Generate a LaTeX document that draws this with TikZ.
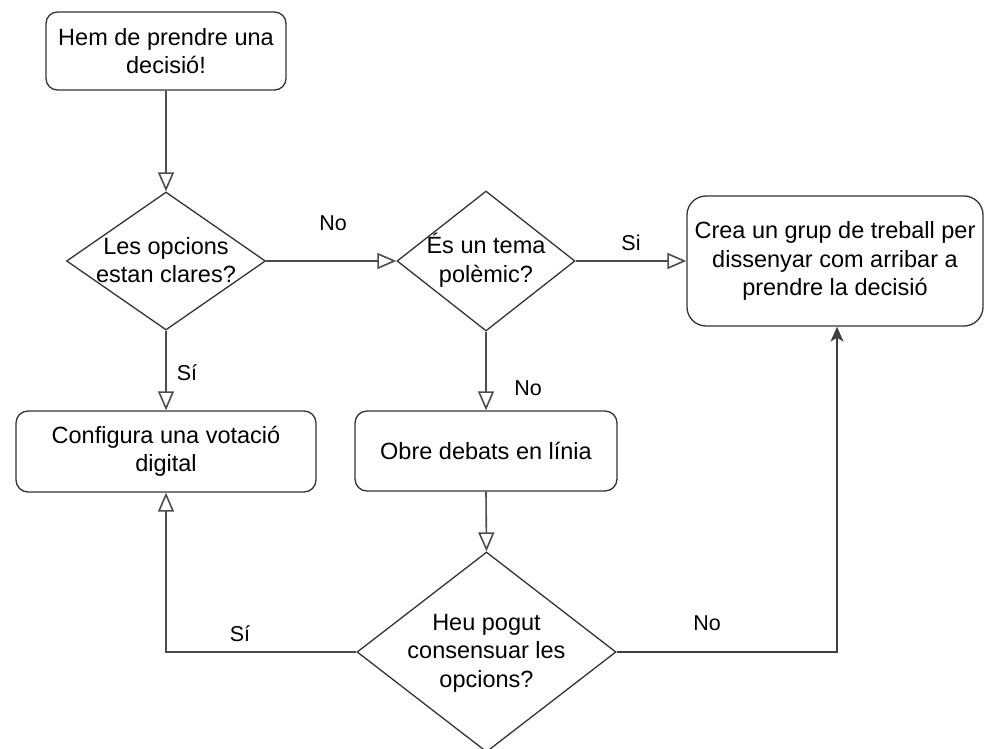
\documentclass[tikz,border=0pt]{standalone}
\usepackage{fontspec}
\setmainfont{Liberation Sans}
\usetikzlibrary{shapes.geometric,arrows.meta}
\begin{document}
\begin{tikzpicture}[x=1pt,y=-1pt,
  box/.style={draw=black!80, line width=1.3pt, rounded corners=#1, inner sep=0pt, align=center, fill=white,
              font=\fontsize{23.5}{28.5}\selectfont},
  box/.default=12pt,
  dia/.style={draw=black!80, line width=1.3pt, diamond, inner sep=0pt, fill=white},
  txt/.style={align=center, inner sep=0pt, font=\fontsize{23.5}{28.5}\selectfont},
  lbl/.style={inner sep=0pt, font=\fontsize{21.5}{26}\selectfont},
  conn/.style={draw=black!70, line width=1.6pt, -{Triangle[open,length=19pt,width=16pt,fill=white]}},
  connf/.style={draw=black!75, line width=1.6pt, -{Stealth[length=15pt,width=13pt,inset=4pt]}}
]
\useasboundingbox (0,0) rectangle (986,749);
\fill[white] (0,0) rectangle (986,749);
\clip (0,0) rectangle (986,749);

% nodes
\node[box=11.5pt, minimum width=240pt, minimum height=78pt] (start) at (166,51) {Hem de prendre una\\decisió!};
\node[dia, minimum width=199pt, minimum height=138pt] (d1) at (166,261) {};
\node[txt] (d1t) at (166,260) {Les opcions\\estan clares?};
\node[dia, minimum width=178pt, minimum height=140pt] (d2) at (486,261) {};
\node[txt] (d2t) at (486,260) {És un tema\\polèmic?};
\node[box=19pt, minimum width=296pt, minimum height=130pt] (grup) at (835,261) {Crea un grup de treball per\\dissenyar com arribar a\\prendre la decisió};
\node[box=12pt, minimum width=300pt, minimum height=81pt] (vot) at (166,451.5) {Configura una votació\\digital};
\node[box=12pt, minimum width=262pt, minimum height=80pt] (obre) at (486,451) {Obre debats en línia};
\node[dia, minimum width=259pt, minimum height=200pt] (d3) at (486.5,652) {};
\node[txt] (d3t) at (486.5,653) {Heu pogut\\consensuar les\\opcions?};

% connectors
\draw[conn] (start) -- (d1);
\draw[conn] (d1) -- (d2);
\draw[conn] (d2) -- (grup);
\draw[conn] (d1) -- (vot);
\draw[conn] (d2.south) -- (obre.north);
\draw[conn] (obre.south) -- (d3.north);
\draw[conn] (d3.west) -| (vot.south);
\coordinate (gin) at ([xshift=2pt]grup.south);
\draw[connf] (d3.east) -| (gin);

% labels
\node[lbl] (lno1) at (333,223) {No};
\node[lbl] (lsi1) at (631,243) {Si};
\node[lbl] (lsi2) at (187,373) {Sí};
\node[lbl] (lno2) at (528,388) {No};
\node[lbl] (lsi3) at (240,634) {Sí};
\node[lbl] (lno3) at (707,623) {No};
\end{tikzpicture}
\end{document}
